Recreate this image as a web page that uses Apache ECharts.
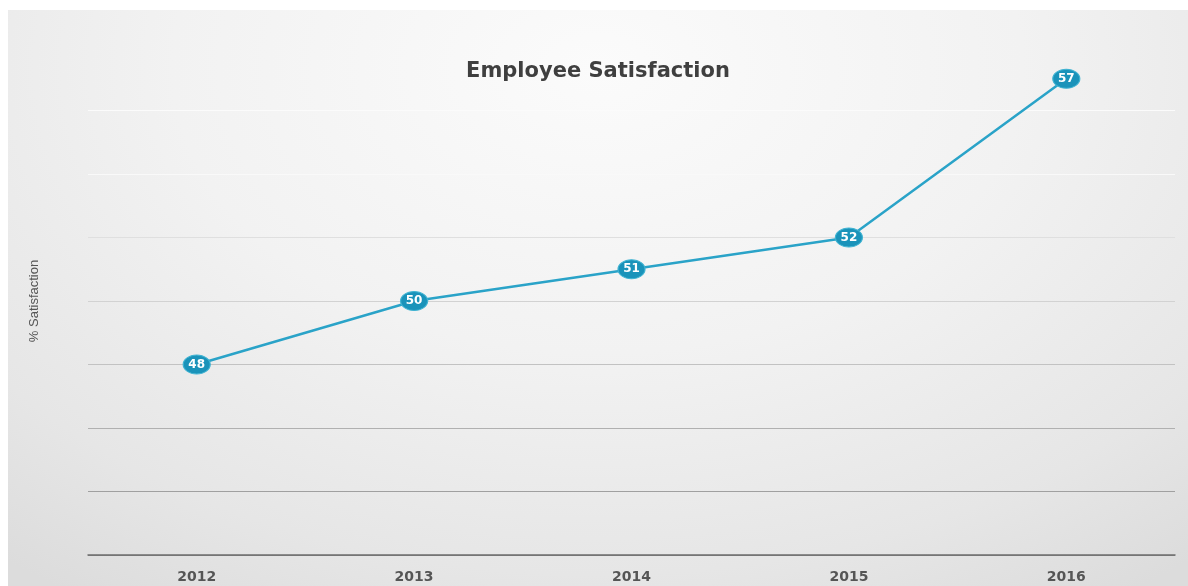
<!DOCTYPE html>
<html>
<head>
<meta charset="utf-8">
<script src="https://cdn.jsdelivr.net/npm/echarts@6/dist/echarts.min.js"></script>
<style>
  html, body { margin: 0; padding: 0; background: #ffffff; }
  #frame {
    position: absolute; left: 8px; top: 10px; width: 1180px; height: 576px;
    background: radial-gradient(ellipse 80% 110% at 50% 10%, #fbfbfb 0%, #f2f2f2 45%, #e6e6e6 80%, #dcdcdc 100%);
  }
  #chart { width: 100%; height: 100%; }
</style>
</head>
<body>
<div id="frame"><div id="chart"></div></div>
<script>
// Yearly employee satisfaction survey results (%)
const years = ['2012', '2013', '2014', '2015', '2016'];
const satisfaction = [48, 50, 51, 52, 57];

// Value axis range
const yMin = 42;
const yMax = 58;
const yStep = 2;

const chart = echarts.init(document.getElementById('chart'), null, { renderer: 'canvas' });

chart.setOption({
  backgroundColor: 'transparent',
  animation: false,
  title: {
    text: 'Employee Satisfaction',
    left: 'center',
    top: 46,
    textStyle: {
      fontFamily: 'DejaVu Sans',
      fontWeight: 'bold',
      fontSize: 21,
      color: '#3f3f3f'
    }
  },
  grid: { left: 80, right: 13, top: 37, bottom: 31 },
  xAxis: {
    type: 'category',
    data: years,
    boundaryGap: true,
    axisLine: { show: true, lineStyle: { color: '#6e6e6e', width: 1.5 } },
    axisTick: { show: false },
    axisLabel: {
      margin: 15,
      fontFamily: 'DejaVu Sans',
      fontWeight: 'bold',
      fontSize: 14,
      color: '#555555'
    }
  },
  yAxis: {
    type: 'value',
    min: yMin,
    max: yMax,
    interval: yStep,
    name: '% Satisfaction',
    nameLocation: 'middle',
    nameGap: 47,
    nameTextStyle: {
      fontFamily: 'Liberation Sans',
      fontSize: 13,
      color: '#555555'
    },
    axisLine: { show: false },
    axisTick: { show: false },
    axisLabel: { show: false },
    splitLine: {
      show: true,
      lineStyle: {
        // lines fade towards the top of the plot; the top edge carries none
        color: ['#8f8f8f', '#a0a0a0', '#b0b0b0', '#c2c2c2', '#d2d2d2', '#dfdfdf', '#f9f9f9', '#fbfbfb', 'rgba(0,0,0,0)'],
        width: 1.2
      }
    }
  },
  series: [{
    type: 'line',
    data: satisfaction,
    symbol: 'circle',
    symbolSize: [27, 19],
    showAllSymbol: true,
    lineStyle: { color: '#2aa3c8', width: 2.5 },
    itemStyle: { color: '#1a93ba', borderColor: '#3fb3d2', borderWidth: 1 },
    label: {
      show: true,
      position: 'inside',
      fontFamily: 'DejaVu Sans',
      fontWeight: 'bold',
      fontSize: 12,
      color: '#ffffff'
    },
    z: 3
  }]
});
</script>
</body>
</html>
